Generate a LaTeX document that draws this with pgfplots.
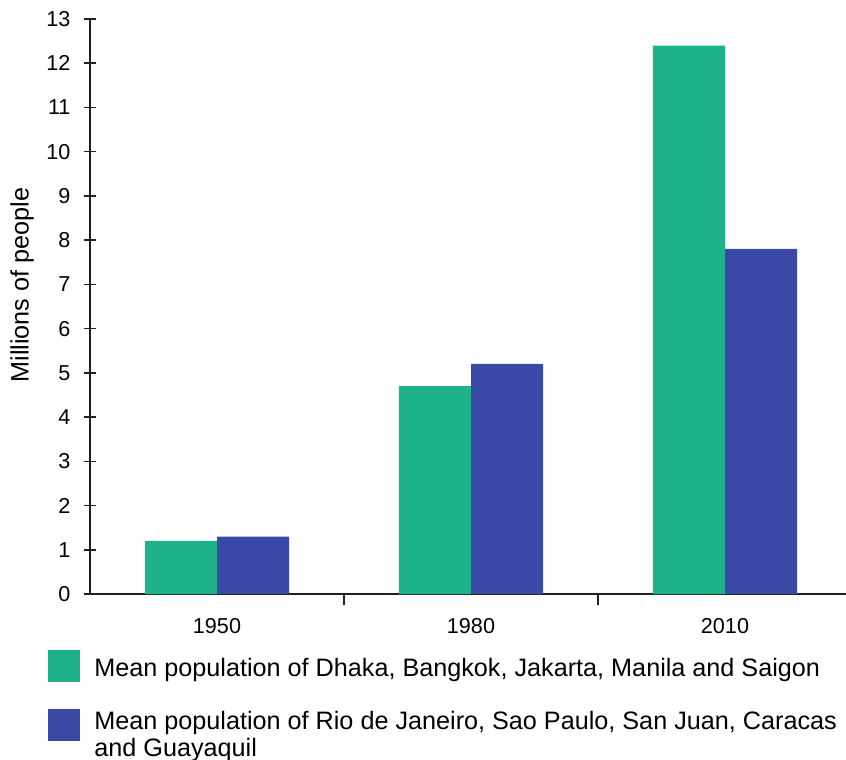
\documentclass[border=0pt]{standalone}
\usepackage{fontspec}
\setmainfont{Liberation Sans}
\usepackage{pgfplots}
\pgfplotsset{compat=1.18}
\definecolor{cgreen}{HTML}{1EB28A}
\definecolor{cblue}{HTML}{3A49A6}
\definecolor{axc}{HTML}{231F20}
\begin{document}
\begin{tikzpicture}
\useasboundingbox (0,0) rectangle (423pt,380pt);
\begin{axis}[
  at={(45pt,83pt)}, anchor=south west,
  scale only axis, width=381pt, height=287.5pt,
  xmin=0, xmax=3, ymin=0, ymax=13,
  axis x line=bottom, axis y line=left,
  axis line style={-, draw=axc, line width=0.8pt},
  every tick/.style={draw=axc, line width=0.8pt},
  major tick length=5.5pt,
  xtick align=outside, ytick align=center,
  ytick={0,1,...,13},
  xtick={1,2,3}, xticklabels={},
  extra x ticks={0.5,1.5,2.5},
  extra x tick labels={1950,1980,2010},
  extra x tick style={major tick length=0pt},
  /pgf/number format/assume math mode=true,
  tick label style={font=\fontsize{10.8}{13}\selectfont, text=black},
  xticklabel style={anchor=center, yshift=-16pt},
  yticklabel style={xshift=-3.5pt},
  ylabel={Millions of people},
  ylabel style={font=\fontsize{12.6}{15}\selectfont, at={(rel axis cs:0,0.537)}, anchor=center, yshift=34pt},
  legend style={at={(rel axis cs:0,0)}, anchor=north west, xshift=-21pt, yshift=-28pt,
    draw=none, fill=none, inner sep=0pt, row sep=12pt,
    font=\fontsize{12.6}{13.5}\selectfont,
    nodes={align=left},
    /tikz/every odd column/.style={column sep=5pt}},
  legend cell align=left,
  legend image code/.code={\fill[#1] (0pt,-7pt) rectangle (16pt,9pt);},
]
\addplot[ybar, bar width=0.2835, bar shift=-0.14175, fill=cgreen, draw=none]
  coordinates {(0.5,1.2) (1.5,4.7) (2.5,12.4)};
\addlegendentry{Mean population of Dhaka, Bangkok, Jakarta, Manila and Saigon}
\addplot[ybar, bar width=0.2835, bar shift=0.14175, fill=cblue, draw=none,
  legend image code/.code={\fill[cblue] (0pt,-3pt) rectangle (16pt,13pt);}]
  coordinates {(0.5,1.3) (1.5,5.2) (2.5,7.8)};
\addlegendentry{Mean population of Rio de Janeiro, Sao Paulo, San Juan, Caracas\\and Guayaquil}
\end{axis}
\end{tikzpicture}
\end{document}
